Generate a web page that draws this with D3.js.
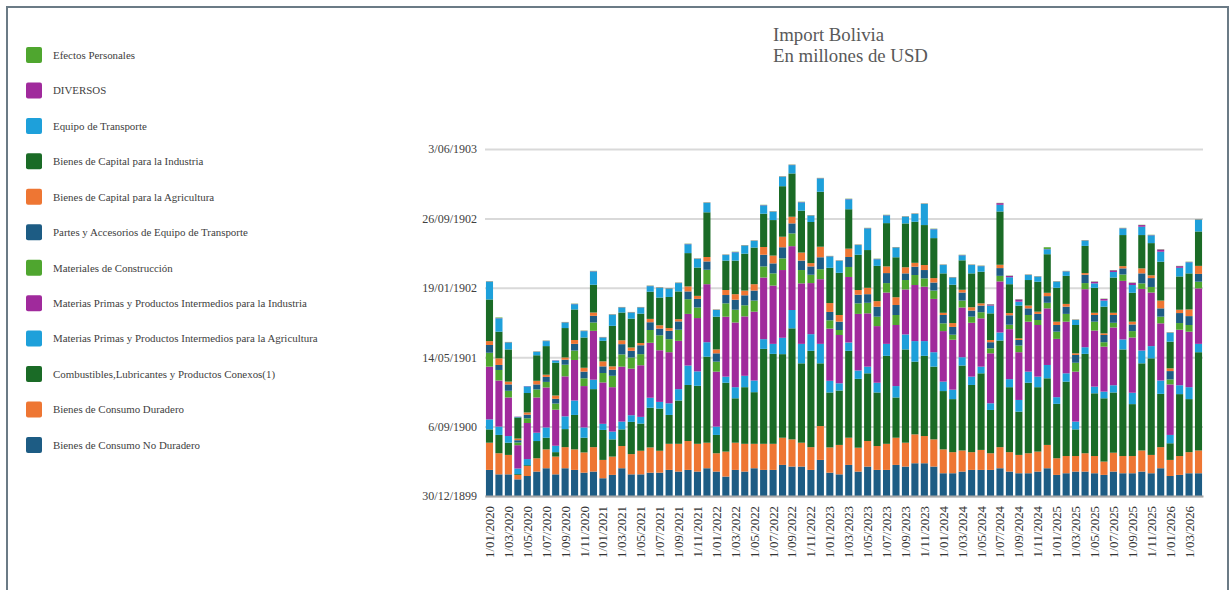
<!DOCTYPE html>
<html>
<head>
<meta charset="utf-8">
<script src="https://cdn.jsdelivr.net/npm/d3@7"></script>
<style>
  body { margin: 0; background: #fff; }
  svg { display: block; font-family: "Liberation Serif", "Times New Roman", serif; }
</style>
</head>
<body>
<svg width="1230" height="590"></svg>
<script>
// months on the x axis
var months = [
  "1/01/2020","1/02/2020","1/03/2020","1/04/2020","1/05/2020","1/06/2020","1/07/2020","1/08/2020","1/09/2020","1/10/2020","1/11/2020","1/12/2020",
  "1/01/2021","1/02/2021","1/03/2021","1/04/2021","1/05/2021","1/06/2021","1/07/2021","1/08/2021","1/09/2021","1/10/2021","1/11/2021","1/12/2021",
  "1/01/2022","1/02/2022","1/03/2022","1/04/2022","1/05/2022","1/06/2022","1/07/2022","1/08/2022","1/09/2022","1/10/2022","1/11/2022","1/12/2022",
  "1/01/2023","1/02/2023","1/03/2023","1/04/2023","1/05/2023","1/06/2023","1/07/2023","1/08/2023","1/09/2023","1/10/2023","1/11/2023","1/12/2023",
  "1/01/2024","1/02/2024","1/03/2024","1/04/2024","1/05/2024","1/06/2024","1/07/2024","1/08/2024","1/09/2024","1/10/2024","1/11/2024","1/12/2024",
  "1/01/2025","1/02/2025","1/03/2025","1/04/2025","1/05/2025","1/06/2025","1/07/2025","1/08/2025","1/09/2025","1/10/2025","1/11/2025","1/12/2025",
  "1/01/2026","1/02/2026","1/03/2026","1/04/2026"
];

// y ticks (values in millions USD, labels as they show on the chart)
var yTicks = [0, 250, 500, 750, 1000, 1250];
var yTickLabels = ["30/12/1899", "6/09/1900", "14/05/1901", "19/01/1902", "26/09/1902", "3/06/1903"];

// series, bottom of the stack first
var consumoNoDuradero = [
  94,78,78,60,72,88,100,78,100,94,84,88,
  64,76,100,78,78,84,84,94,88,94,88,100,
  88,70,94,88,100,94,94,112,106,106,94,130,
  84,78,112,88,106,94,94,112,106,118,118,106,
  82,82,88,94,94,94,100,88,82,82,88,100,
  76,82,88,88,82,76,88,82,82,88,82,100,
  72,76,82,82];
var consumoDuradero = [
  98,76,70,16,36,48,68,64,76,74,73,88,
  66,66,80,73,85,91,79,94,100,104,100,92,
  66,90,98,100,88,94,94,98,98,86,82,122,
  91,106,98,86,92,86,94,98,86,104,98,98,
  86,76,76,64,72,60,76,70,66,72,72,84,
  60,62,56,66,62,48,68,62,62,76,66,76,
  58,68,76,82];
var combustibles = [
  48,66,44,3,3,62,42,16,65,124,53,209,
  108,62,60,116,98,143,152,104,156,202,209,310,
  66,248,160,204,186,342,324,301,400,286,347,226,
  198,196,313,248,244,193,317,145,336,262,289,262,
  210,191,306,242,276,156,384,234,156,254,232,240,
  196,268,96,358,226,228,217,384,187,314,348,192,
  60,223,191,354];
var mpAgricultura = [
  36,30,24,20,22,30,37,23,46,52,37,34,
  22,28,28,24,24,36,24,42,41,70,52,52,
  30,22,40,41,42,35,36,59,66,70,60,70,
  42,26,30,30,24,35,43,41,54,74,53,52,
  34,34,30,30,24,24,29,29,42,40,38,48,
  24,30,28,24,24,24,26,36,41,46,44,48,
  30,32,43,30];
var mpIndustria = [
  190,166,139,84,130,127,144,130,144,146,149,176,
  149,160,198,168,186,198,186,184,174,186,192,209,
  198,216,233,214,248,222,210,244,230,218,184,233,
  188,174,236,204,192,204,185,220,162,202,196,192,
  182,180,179,194,174,180,184,180,172,180,186,204,
  210,186,180,209,202,162,208,211,199,222,193,206,
  182,200,200,200];
var construccion = [
  50,38,24,10,17,29,20,22,42,34,28,30,
  34,41,44,40,40,46,54,47,40,53,38,52,
  36,48,46,40,40,40,44,42,46,48,30,36,
  30,18,36,38,38,34,34,36,34,36,30,30,
  28,18,25,22,22,18,20,16,24,24,18,20,
  26,28,32,22,32,16,17,23,23,20,20,24,
  18,24,24,24];
var partesTransporte = [
  28,18,23,8,13,18,18,17,18,24,24,24,
  24,22,37,24,32,28,24,30,30,28,31,30,
  30,30,36,36,36,42,36,40,36,34,30,43,
  30,30,36,31,31,36,36,36,24,30,30,29,
  30,28,29,22,24,22,28,34,20,24,22,24,
  24,26,28,30,24,26,28,22,24,36,32,30,
  30,36,32,28];
var capitalAgricultura = [
  14,24,10,6,8,13,8,12,8,14,14,12,
  18,12,14,12,8,12,12,10,8,18,11,16,
  14,18,20,17,23,28,28,38,24,29,12,38,
  32,24,30,17,23,20,24,28,22,14,18,16,
  8,14,10,12,8,8,12,8,6,10,8,12,
  12,10,6,6,8,6,8,8,10,18,10,28,
  10,12,24,29];
var capitalIndustria = [
  150,96,116,76,70,92,103,118,106,110,109,100,
  74,146,100,104,106,98,100,112,100,120,102,161,
  118,106,121,133,132,120,128,182,156,151,148,198,
  127,152,142,127,136,127,156,144,158,148,144,144,
  142,138,106,122,114,96,192,104,118,92,108,139,
  122,101,102,98,90,96,127,112,104,120,116,140,
  96,120,130,124];
var equipoTransporte = [
  64,48,25,2,24,12,18,8,20,19,23,48,
  12,40,18,22,22,20,35,30,30,32,31,34,
  24,20,30,29,24,30,30,34,30,30,23,48,
  41,43,36,35,78,24,28,35,24,28,76,32,
  30,26,18,30,20,28,24,25,14,18,18,18,
  22,16,18,19,16,22,20,24,28,30,28,36,
  32,31,40,42];
var diversos = [
  1,1,1,1,1,1,1,1,1,1,1,1,
  1,1,1,1,1,1,1,1,1,1,1,1,
  1,1,1,1,1,1,1,1,1,1,1,1,
  1,1,1,1,1,1,1,1,1,1,1,1,
  1,1,1,1,1,4,6,5,8,1,1,1,
  1,1,1,1,6,6,6,1,8,6,1,8,
  1,6,1,1];
var efectosPersonales = [
  1,2,1,0,0,1,1,0,1,1,1,1,
  1,1,1,1,1,1,1,1,1,1,1,1,
  1,1,1,1,1,1,1,1,1,1,1,1,
  1,1,1,1,1,1,1,1,1,1,1,1,
  1,1,1,1,1,1,1,1,1,1,1,6,
  1,1,1,1,1,1,1,1,1,1,1,1,
  1,1,1,1];

var seriesNames = [
  "Bienes de Consumo No Duradero",
  "Bienes de Consumo Duradero",
  "Combustibles,Lubricantes y Productos Conexos(1)",
  "Materias Primas y Productos Intermedios para la Agricultura",
  "Materias Primas y Productos Intermedios para la Industria",
  "Materiales de Construcción",
  "Partes y Accesorios de Equipo de Transporte",
  "Bienes de Capital para la Agricultura",
  "Bienes de Capital para la Industria",
  "Equipo de Transporte",
  "DIVERSOS",
  "Efectos Personales"
];
var seriesValues = [consumoNoDuradero, consumoDuradero, combustibles, mpAgricultura, mpIndustria,
  construccion, partesTransporte, capitalAgricultura, capitalIndustria, equipoTransporte, diversos, efectosPersonales];

var darkBlue = "#1d5c84", orange = "#ee7633", darkGreen = "#1a6b26",
    lightBlue = "#1ea0da", purple = "#a02a9c", lightGreen = "#4fa62f";
var seriesColors = [darkBlue, orange, darkGreen, lightBlue, purple, lightGreen,
  darkBlue, orange, darkGreen, lightBlue, purple, lightGreen];

// rows for d3.stack
var rows = months.map(function (m, i) {
  var row = { month: m };
  seriesNames.forEach(function (name, k) { row[name] = seriesValues[k][i]; });
  return row;
});

var svg = d3.select("svg");

// frame round the picture
svg.append("rect")
    .attr("x", 7).attr("y", 7)
    .attr("width", 1221).attr("height", 600)
    .attr("fill", "none")
    .attr("stroke", "#6b7b86")
    .attr("stroke-width", 2);

var plotLeft = 485, plotRight = 1203, plotTop = 149, plotBottom = 496;

var x = d3.scaleBand()
    .domain(months)
    .range([plotLeft, plotRight])
    .paddingInner(0.25)
    .paddingOuter(0.1);

var y = d3.scaleLinear()
    .domain([0, 1250])
    .range([plotBottom, plotTop]);

// gridlines + y labels
var yAxis = svg.append("g")
    .attr("transform", "translate(" + plotLeft + ",0)")
    .call(d3.axisLeft(y)
        .tickValues(yTicks)
        .tickFormat(function (d, i) { return yTickLabels[i]; })
        .tickSize(-(plotRight - plotLeft))
        .tickPadding(8));
yAxis.select(".domain").remove();
yAxis.selectAll(".tick line")
    .attr("stroke", "#d9d9d9")
    .attr("stroke-width", 2);
yAxis.selectAll(".tick text")
    .attr("fill", "#404040")
    .style("font-size", "12px")
    .style("font-family", "'Liberation Serif', serif");

// stacked bars
var stacked = d3.stack().keys(seriesNames)(rows);

svg.append("g")
    .selectAll("g")
    .data(stacked)
    .enter().append("g")
    .attr("fill", function (d, i) { return seriesColors[i]; })
    .selectAll("rect")
    .data(function (d) { return d; })
    .enter().append("rect")
    .attr("x", function (d) { return x(d.data.month); })
    .attr("width", x.bandwidth())
    .attr("y", function (d) { return y(d[1]); })
    .attr("height", function (d) { return y(d[0]) - y(d[1]); });

// x axis, a label every second month
var xAxis = svg.append("g")
    .attr("transform", "translate(0," + plotBottom + ")")
    .call(d3.axisBottom(x)
        .tickValues(months.filter(function (d, i) { return i % 2 === 0; }))
        .tickSize(0));
xAxis.select(".domain")
    .attr("stroke", "#a8a8a8")
    .attr("stroke-width", 2);
xAxis.selectAll(".tick text")
    .attr("fill", "#333")
    .style("font-size", "12.8px")
    .style("font-family", "'Liberation Serif', serif")
    .attr("text-anchor", "end")
    .attr("transform", "rotate(-90)")
    .attr("x", -10)
    .attr("y", 0)
    .attr("dy", "0.35em");

// title
var title = svg.append("text")
    .attr("x", 773)
    .attr("fill", "#595959")
    .style("font-size", "18.8px");
title.append("tspan").attr("x", 773).attr("y", 41).text("Import Bolivia");
title.append("tspan").attr("x", 773).attr("y", 62).text("En millones de USD");

// legend, top of the stack first
var legendItems = seriesNames.map(function (name, i) {
    return { name: name, color: seriesColors[i] };
}).reverse();

var legend = svg.append("g")
    .selectAll("g")
    .data(legendItems)
    .enter().append("g")
    .attr("transform", function (d, i) { return "translate(26," + (55 + i * 35.45) + ")"; });

legend.append("rect")
    .attr("x", 0).attr("y", -8)
    .attr("width", 16).attr("height", 16)
    .attr("rx", 2)
    .attr("fill", function (d) { return d.color; });

legend.append("text")
    .attr("x", 27)
    .attr("dy", "0.35em")
    .attr("fill", "#404040")
    .style("font-size", "10.9px")
    .text(function (d) { return d.name; });
</script>
</body>
</html>
